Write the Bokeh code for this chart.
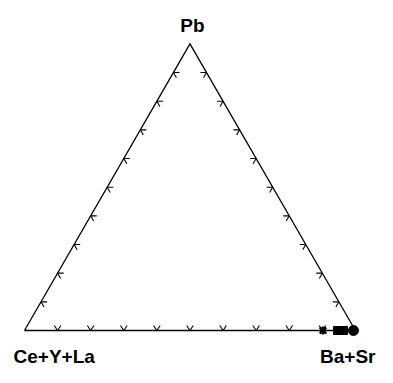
import math
from bokeh.plotting import figure
from bokeh.models import Range1d
from bokeh.core.properties import value
from bokeh.embed import file_html
from bokeh.resources import INLINE

# ---- data (percent) ----
corner_labels = ["Pb", "Ce+Y+La", "Ba+Sr"]
tick_fracs = [0.1, 0.2, 0.3, 0.4, 0.5, 0.6, 0.7, 0.8, 0.9]

x_pb = [0.0]
x_ree = [9.8]
x_basr = [90.2]

sq_pb = [0.0, 0.0, 0.0]
sq_ree = [5.4, 4.5, 3.6]
sq_basr = [94.6, 95.5, 96.4]

c_pb = [0.0]
c_ree = [0.6]
c_basr = [99.4]

H = math.sqrt(3) / 2

W, HT = 377, 367
S = W / 393.0          # fit the 393x383 layout into the canvas
SC = 345.0             # px per ternary unit (before fitting)


def tern(pb, ree, basr):
    xs, ys = [], []
    for a, b, c in zip(pb, ree, basr):
        s = a + b + c
        xs.append(c / s + 0.5 * a / s)
        ys.append(H * a / s)
    return xs, ys


p = figure(width=W, height=HT, output_backend="svg", toolbar_location=None,
           x_range=Range1d(-25 / SC, (W / S - 25) / SC),
           y_range=Range1d((344 - HT / S) / SC, 344 / SC),
           min_border=0, outline_line_color=None, background_fill_color="white")
p.axis.visible = False
p.grid.visible = False

# triangle
p.line([0, 1, 0.5, 0], [0, 0, H, 0], line_color="black", line_width=1.3,
       line_join="miter")

# chevron ticks
L = 6.3 / SC
x0s, y0s, x1s, y1s = [], [], [], []


def chev(px, py, angs):
    for ang in angs:
        r = math.radians(ang)
        x0s.append(px)
        y0s.append(py)
        x1s.append(px + L * math.cos(r))
        y1s.append(py + L * math.sin(r))


for t in tick_fracs:
    chev(t, 0.0, [57, 123])
    chev(0.5 * t, H * t, [0, 300])
    chev(1 - 0.5 * t, H * t, [180, 240])
p.segment(x0s, y0s, x1s, y1s, line_color="black", line_width=1.1)

# data points
xx, xy = tern(x_pb, x_ree, x_basr)
p.scatter(xx, xy, marker="x", size=9, line_color="black", line_width=2.5)
p.scatter(xx, xy, marker="diamond", size=8, fill_color="black", line_color="black")
sx, sy = tern(sq_pb, sq_ree, sq_basr)
p.scatter(sx, sy, marker="square", size=8, fill_color="black", line_color="black")
cx, cy = tern(c_pb, c_ree, c_basr)
p.scatter(cx, cy, marker="circle", size=10, fill_color="black", line_color="black")

# corner labels
font = value("Liberation Sans")
p.text([0.5], [H], text=[corner_labels[0]], text_font=font, text_font_style="bold",
       text_font_size="19px", text_align="center", text_baseline="alphabetic",
       x_offset=2.4, y_offset=-18)
p.text([0.0], [0.0], text=[corner_labels[1]], text_font=font, text_font_style="bold",
       text_font_size="19px", text_align="center", text_baseline="alphabetic",
       x_offset=29.7, y_offset=26)
p.text([1.0], [0.0], text=[corner_labels[2]], text_font=font, text_font_style="bold",
       text_font_size="19px", text_align="center", text_baseline="alphabetic",
       x_offset=-7.7, y_offset=26)

open("out.html", "w").write(file_html(p, INLINE))
